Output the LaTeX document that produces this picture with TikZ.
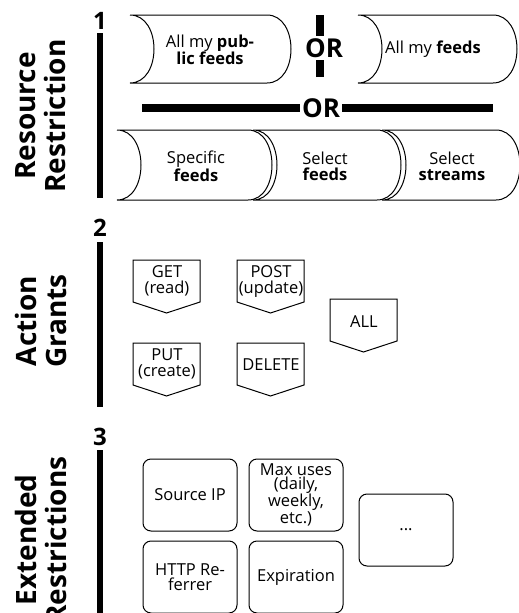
\documentclass[tikz,border=0pt]{standalone}
\usepackage{fontspec}
\setmainfont{Open Sans}

\begin{document}
\begin{tikzpicture}
        [x=1pt,y=-1pt,
         every node/.style={font=\fontsize{16.5}{16}\selectfont,align=center,inner sep=0},
         heading/.style={font=\fontsize{28}{30}\selectfont\bfseries,rotate=90},
         digit/.style={font=\fontsize{24}{24}\selectfont\bfseries},
         bar/.style={line width=6pt},
         orbar/.style={line width=8pt},
         orlabel/.style={font=\fontsize{26}{26}\selectfont\bfseries,fill=white,inner sep=2pt},
         outline/.style={line width=1pt},
         restrict/.style={draw,outline,rounded corners=8pt,minimum width=94pt,minimum height=72pt},
         pics/scroll/.style 2 args={code={\draw[outline] (0,0) -- (#1,0) .. controls +(32,0) and +(32,0) .. (#1,#2) -- (0,#2) .. controls (32,#2) and (32,0) .. (0,0);}},
         pics/grant/.style={code={\draw[outline] (0,0) -- (67,0) -- (67,42) -- (33.5,53) -- (0,42) -- cycle;}}]

        \useasboundingbox (0,0) rectangle (519,613);
        \clip (0,0) rectangle (519,613);

        % 1: resource restriction
        \node[digit] (one) at (100,21) {1};
        \coordinate (bartop1) at (100,33);
        \coordinate (barend1) at (100,198);
        \draw[bar] (bartop1) -- (barend1);
        \node[heading] (resource) at (41,116) {Resource\\Restriction};

        \pic at (130,15) {scroll={137}{68}};
        \pic at (358,15) {scroll={135}{68}};
        \node (public) at (210,50) {All my \textbf{pub-}\\\textbf{lic feeds}};
        \node (allfeeds) at (433,49) {All my \textbf{feeds}};

        \node[orlabel] (orv) at (324,48) {OR};
        \coordinate (orvtop) at (320,15);
        \coordinate (orvend) at (320,77);
        \draw[orbar] (orvtop) -- (orvtop |- orv.north);
        \draw[orbar] (orvend) -- (orvend |- orv.south);

        \node[orlabel] (orh) at (321,108) {OR};
        \coordinate (orhleft) at (142,108);
        \coordinate (orhright) at (493,108);
        \draw[orbar] (orhleft) -- (orh);
        \draw[orbar] (orhright) -- (orh);

        \pic at (117,130) {scroll={131}{70}};
        \pic at (253,130) {scroll={124}{70}};
        \pic at (382,130) {scroll={114}{70}};
        \node (specific) at (196,166) {Specific\\\textbf{feeds}};
        \node (selfeeds) at (325,166) {Select\\\textbf{feeds}};
        \node (selstreams) at (452,166) {Select\\\textbf{streams}};

        % 2: action grants
        \node[digit] (two) at (100,228) {2};
        \coordinate (bartop2) at (100,242);
        \coordinate (barend2) at (100,407);
        \draw[bar] (bartop2) -- (barend2);
        \node[heading] (action) at (41,321) {Action\\Grants};

        \pic at (133,260) {grant};
        \pic at (237,260) {grant};
        \pic at (330,299) {grant};
        \pic at (133,343) {grant};
        \pic at (237,343) {grant};
        \node (get) at (167,281) {GET\\(read)};
        \node (post) at (271,281) {POST\\(update)};
        \node (all) at (364,322) {ALL};
        \node (put) at (167,364) {PUT\\(create)};
        \node (delete) at (271,365) {DELETE};

        % 3: extended restrictions
        \node[digit] (three) at (100,437) {3};
        \coordinate (bartop3) at (100,450);
        \coordinate (barend3) at (100,630);
        \draw[bar] (bartop3) -- (barend3);
        \node[heading] (extended) at (41,540) {Extended\\Restrictions};

        \node[restrict] (sourceip) at (190,495) {Source IP};
        \node[restrict,font=\fontsize{16.5}{13.5}\selectfont] (maxuses) at (296,495) {Max uses\\(daily,\\weekly,\\etc.)};
        \node[restrict,font=\fontsize{16.5}{15}\selectfont] (referrer) at (190,577) {HTTP Re-\\ferrer};
        \node[restrict] (expiration) at (296,577) {Expiration};
        \node[restrict] (more) at (406,530) {...};
      \end{tikzpicture}
\end{document}
